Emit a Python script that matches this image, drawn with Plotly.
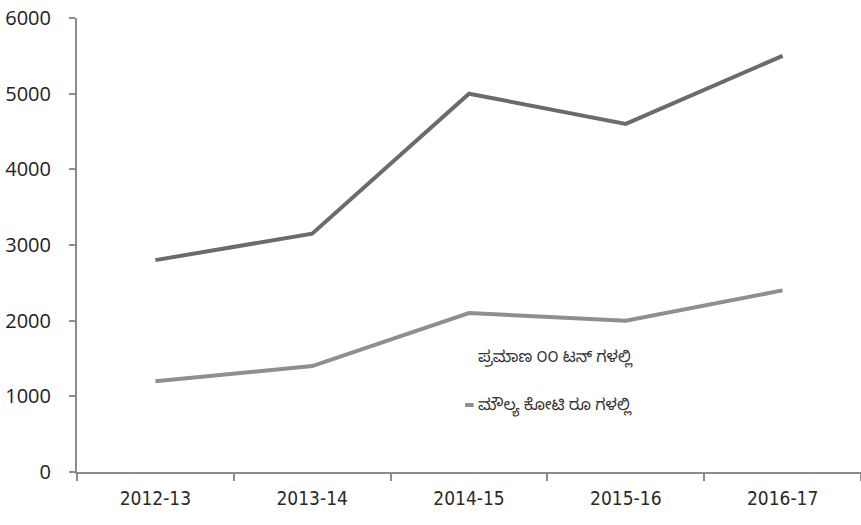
import plotly.graph_objects as go

years = ["2012-13", "2013-14", "2014-15", "2015-16", "2016-17"]
quantity = [2800, 3150, 5000, 4600, 5500]
value = [1200, 1400, 2100, 2000, 2400]
name_quantity = "ಪ್ರಮಾಣ ೦೦ ಟನ್ ಗಳಲ್ಲಿ"
name_value = "ಮೌಲ್ಯ ಕೋಟಿ ರೂ ಗಳಲ್ಲಿ"
y_ticks = [0, 1000, 2000, 3000, 4000, 5000, 6000]

c_q = "#6b6b6d"
c_v = "#8f8f91"
axis_c = "#8c8c8e"
font = "Open Sans, Noto Sans, Noto Sans Kannada, sans-serif"

fig = go.Figure()
fig.add_trace(go.Scatter(x=years, y=quantity, mode="lines", name=name_quantity,
                         line=dict(color=c_q, width=4), showlegend=False))
fig.add_trace(go.Scatter(x=years, y=value, mode="lines", name=name_value,
                         line=dict(color=c_v, width=4), showlegend=False))

# legend drawn as annotations (first entry has no visible key in the reference)
fig.add_annotation(x=0.509, y=1520, xref="paper", yref="y", text=name_quantity,
                   showarrow=False, xanchor="left", yanchor="middle",
                   font=dict(family=font, size=16, color="#333333"))
fig.add_annotation(x=0.509, y=885, xref="paper", yref="y", text=name_value,
                   showarrow=False, xanchor="left", yanchor="middle",
                   font=dict(family=font, size=16, color="#333333"))
fig.add_shape(type="line", xref="paper", yref="y", x0=0.495, x1=0.506, y0=885, y1=885,
              line=dict(color=c_v, width=4))

fig.update_layout(
    width=861, height=525,
    margin=dict(l=77, r=0, t=18, b=53),
    paper_bgcolor="white", plot_bgcolor="white",
    font=dict(family=font, size=17, color="#222222"),
    showlegend=False,
)
fig.update_xaxes(
    type="category", range=[-0.5, 4.5], automargin=False,
    showline=True, linecolor=axis_c, linewidth=2,
    ticks="outside", tickson="boundaries", ticklen=7, tickcolor=axis_c, tickwidth=1.5,
    showgrid=False, zeroline=False,
    tickfont=dict(family="DejaVu Sans Condensed, sans-serif", size=19, color="#2a2a2a"),
    ticklabelstandoff=8,
)
fig.update_yaxes(
    range=[0, 6000], tickvals=y_ticks, automargin=False,
    showline=True, linecolor=axis_c, linewidth=2,
    ticks="outside", ticklen=6, tickcolor=axis_c, tickwidth=1.5,
    showgrid=False, zeroline=False,
    tickfont=dict(family=font, size=20, color="#222222"),
    ticklabelstandoff=14,
)

fig.write_html("out.html", config={"displayModeBar": False},
               post_script="document.body.style.margin='0';")
